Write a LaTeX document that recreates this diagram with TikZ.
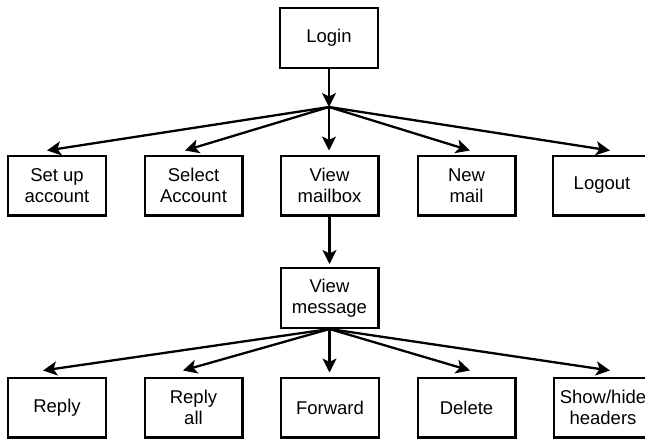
\documentclass[tikz,border=0pt]{standalone}
\usepackage{fontspec}
\setmainfont{Liberation Sans}
\usetikzlibrary{arrows.meta}
\begin{document}
\begin{tikzpicture}[x=1pt,y=-1pt,
  box/.style={draw, line width=2.3pt, minimum width=97.7pt, minimum height=59.7pt, align=center, inner sep=0pt,
    font=\fontsize{18.5pt}{21.5pt}\selectfont},
  conn/.style={line width=2.3pt, -{Stealth[length=14pt,width=14pt,inset=3.5pt]}}]
\clip (0,0) rectangle (645,440);
\node[box] (login) at (329,38) {Login};
\node[box] (su) at (57,185.5) {Set up\\account};
\node[box] (sa) at (193.5,185.5) {Select\\Account};
\node[box] (vm) at (329.5,185.5) {View\\mailbox};
\node[box] (nm) at (466.5,185.5) {New\\mail};
\node[box] (lo) at (602,185.5) {Logout};
\node[box] (vmsg) at (329.5,298) {View\\message};
\node[box] (re) at (57,407.5) {Reply};
\node[box] (ra) at (193.5,407.5) {Reply\\all};
\node[box] (fw) at (330,407.5) {Forward};
\node[box] (de) at (466.5,407.5) {Delete};
\node[box] (sh) at (603,407.5) {Show/hide\\headers};
\coordinate (hub) at (329,107);
\draw[conn] (login.south) -- (hub);
\draw[conn] (hub) -- ([xshift=-10pt,yshift=4pt]su.north);
\draw[conn] (hub) -- ([xshift=-8.5pt,yshift=4pt]sa.north);
\draw[conn] (hub) -- ([xshift=-0.5pt,yshift=4pt]vm.north);
\draw[conn] (hub) -- ([xshift=3.5pt,yshift=4pt]nm.north);
\draw[conn] (hub) -- ([xshift=8pt,yshift=4pt]lo.north);
\draw[conn] (vm.south) -- ([yshift=3pt]vmsg.north);
\draw[conn] (vmsg.south) -- ([xshift=-14pt,yshift=6pt]re.north);
\draw[conn] (vmsg.south) -- ([xshift=-10.5pt,yshift=6pt]ra.north);
\draw[conn] (vmsg.south) -- ([xshift=-0.5pt,yshift=4pt]fw.north);
\draw[conn] (vmsg.south) -- ([xshift=3.5pt,yshift=6pt]de.north);
\draw[conn] (vmsg.south) -- ([xshift=7pt,yshift=6pt]sh.north);
\end{tikzpicture}
\end{document}
